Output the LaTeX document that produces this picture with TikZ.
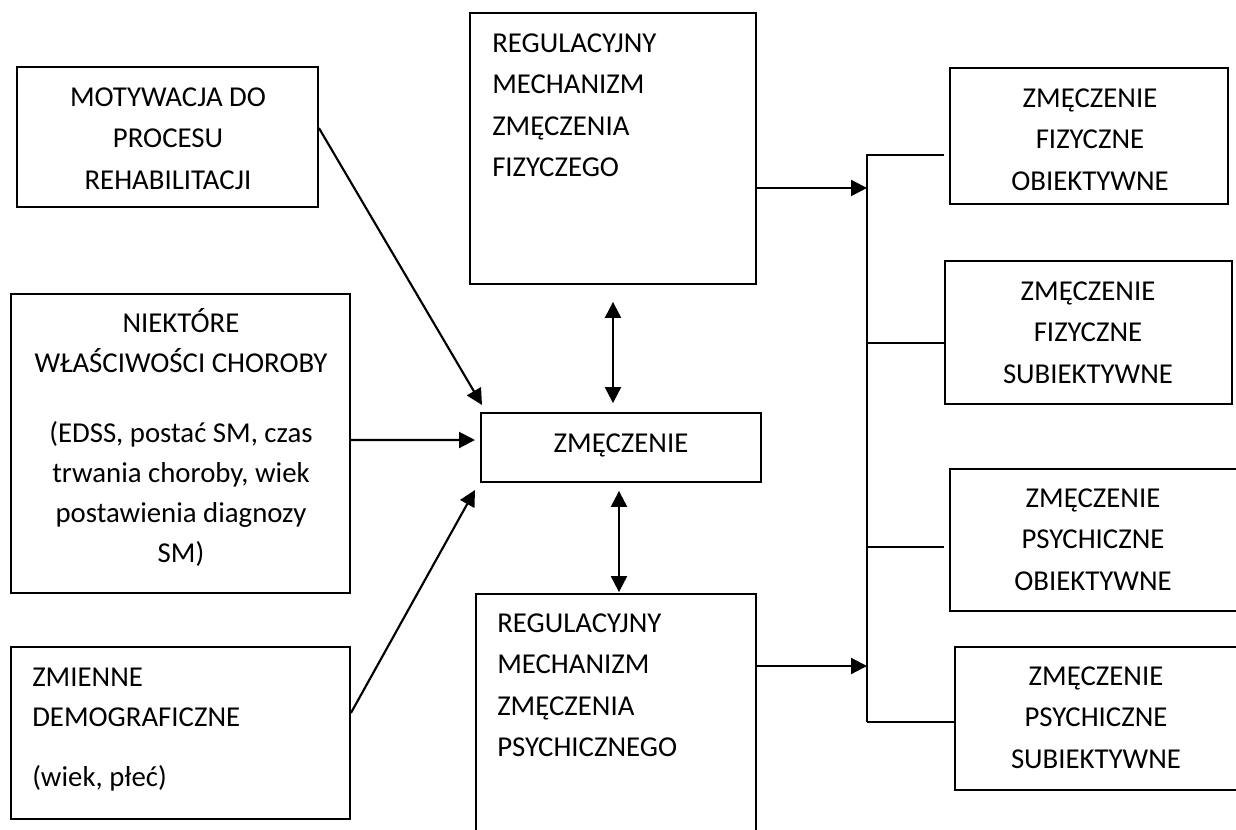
\documentclass[tikz,border=0pt]{standalone}
\usepackage{fontspec}
\setmainfont{Carlito}
\usetikzlibrary{arrows.meta,fit,calc}
\newcommand\mystrut{\rule{0pt}{20pt}}
\begin{document}
\begin{tikzpicture}[x=0.75pt,y=-0.75pt,
  box/.style={draw,line width=1.35pt,inner sep=0pt,rectangle},
  txt/.style={font=\fontsize{21.6}{31}\selectfont,inner sep=0pt,align=center,anchor=north},
  txtl/.style={font=\fontsize{21.6}{31}\selectfont,inner sep=0pt,align=left,anchor=north west},
  arr/.style={line width=1.6pt,-{Triangle[length=12pt,width=12pt]}},
  darr/.style={line width=1.6pt,{Triangle[length=12pt,width=12pt]}-{Triangle[length=12pt,width=12pt]}},
  ln/.style={line width=1.35pt}]
\useasboundingbox (0,0) rectangle (1236,829);
% boxes
\node[box,fit={(17,67) (318,207)}] (mot) {};
\node[box,fit={(11,294) (350,593)}] (niek) {};
\node[box,fit={(11,647) (350,819)}] (zmi) {};
\node[box,fit={(470,13) (756,284)}] (regtop) {};
\node[box,fit={(481,413) (761,482)}] (z) {};
\node[box,fit={(476,594) (756,850)}] (regbot) {};
\node[box,fit={(950,68) (1228,204)}] (r1) {};
\node[box,fit={(945,261) (1232,404)}] (r2) {};
\node[box,fit={(950,469) (1250,611)}] (r3) {};
\node[box,fit={(955,647) (1250,790)}] (r4) {};
% texts
\node[txt] (tmot) at (168,79.4) {\mystrut MOTYWACJA DO\\PROCESU\\REHABILITACJI};
\node[txt,font=\fontsize{21.6}{30}\selectfont] (tniek) at (181,305.4) {\mystrut NIEKTÓRE\\WŁAŚCIWOŚCI CHOROBY\\[22.5pt](EDSS, postać SM, czas\\trwania choroby, wiek\\postawienia diagnozy\\SM)};
\node[txtl,font=\fontsize{21.6}{30}\selectfont] (tzmi) at (32,659.4) {\mystrut ZMIENNE\\DEMOGRAFICZNE\\[15pt](wiek, płeć)};
\node[txtl] (tregtop) at (492,25.4) {\mystrut REGULACYJNY\\MECHANIZM\\ZMĘCZENIA\\FIZYCZEGO};
\node[txtl] (tregbot) at (497,605.4) {\mystrut REGULACYJNY\\MECHANIZM\\ZMĘCZENIA\\PSYCHICZNEGO};
\node[txt] (tz) at (621,425.4) {\mystrut ZMĘCZENIE};
\node[txt] (tr1) at (1090,80.4) {\mystrut ZMĘCZENIE\\FIZYCZNE\\OBIEKTYWNE};
\node[txt] (tr2) at (1088,273.4) {\mystrut ZMĘCZENIE\\FIZYCZNE\\SUBIEKTYWNE};
\node[txt] (tr3) at (1093,480.4) {\mystrut ZMĘCZENIE\\PSYCHICZNE\\OBIEKTYWNE};
\node[txt] (tr4) at (1096,658.4) {\mystrut ZMĘCZENIE\\PSYCHICZNE\\SUBIEKTYWNE};
% free ends
\coordinate (t1) at (482,405);
\coordinate (t2) at (475,440);
\coordinate (t3) at (475,490);
\coordinate (bt) at (867,155);
\coordinate (bb) at (867,722);
% arrows into ZMECZENIE
\draw[arr] ([yshift=6.75pt]mot.east) -- (t1);
\draw[arr] ([yshift=2.6pt]niek.east) -- (t2);
\draw[arr] ([yshift=15pt]zmi.east) -- (t3);
% double arrows
\draw[darr] ([yshift=-12.75pt]regtop.south) -- ([xshift=-6pt,yshift=6.75pt]z.north);
\draw[darr] ([xshift=-1.5pt,yshift=-6pt]z.south) -- ([xshift=2.25pt,yshift=0.75pt]regbot.north);
% to bus
\draw[arr] ([yshift=-29.6pt]regtop.east) -- ([yshift=-29.6pt]regtop.east -| bt);
\draw[arr] ([yshift=42pt]regbot.east) -- ([yshift=42pt]regbot.east -| bt);
% bus and branches
\draw[ln] (bb) -- (bt) -- ([xshift=-3.75pt]r1.west |- bt);
\draw[ln] ([yshift=-7.9pt]r2.west) -- ([yshift=-7.9pt]r2.west -| bt);
\draw[ln] ([xshift=-3.75pt,yshift=-5.25pt]r3.west) -- ([yshift=-5.25pt]r3.west -| bt);
\draw[ln] ([yshift=-2.6pt]r4.west) -- (bb);
\end{tikzpicture}
\end{document}
